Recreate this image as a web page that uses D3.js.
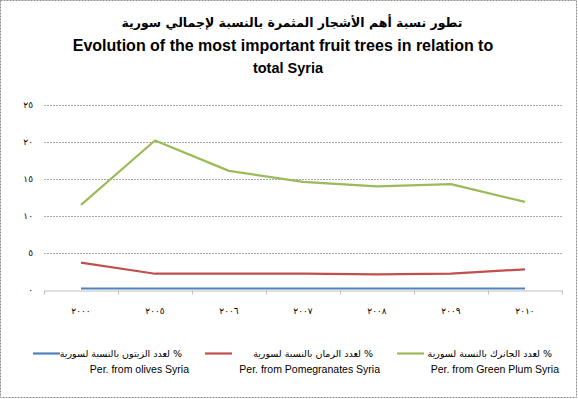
<!DOCTYPE html>
<html>
<head>
<meta charset="utf-8">
<script src="https://cdn.jsdelivr.net/npm/d3@7"></script>
<style>
  body { margin: 0; background: #fff; }
  svg { display: block; }
</style>
</head>
<body>
<svg id="chart"></svg>
<script>
// data
const years = ['٢٠٠٠', '٢٠٠٥', '٢٠٠٦', '٢٠٠٧', '٢٠٠٨', '٢٠٠٩', '٢٠١٠'];
const olives = [0.2, 0.2, 0.2, 0.2, 0.2, 0.2, 0.2];
const pomegranates = [3.7, 2.2, 2.2, 2.2, 2.1, 2.2, 2.8];
const greenPlum = [11.5, 20.2, 16.1, 14.6, 14.0, 14.3, 11.9];
const yTicks = [0, 5, 10, 15, 20, 25];
const yTickLabels = ['٠', '٥', '١٠', '١٥', '٢٠', '٢٥'];

const seriesNames = [
  { ar: '% لعدد الزيتون بالنسبة لسورية', en: 'Per. from olives Syria' },
  { ar: '% لعدد الرمان بالنسبة لسورية', en: 'Per. from Pomegranates Syria' },
  { ar: '% لعدد الجانرك بالنسبة لسورية', en: 'Per. from Green Plum Syria' }
];
const seriesValues = [olives, pomegranates, greenPlum];
const colors = ['#4F81BD', '#C0504D', '#9BBB59'];

const width = 578, height = 399;
const marginLeft = 44, marginRight = 16, marginTop = 105, marginBottom = 109;

const svg = d3.select('#chart')
  .attr('width', width)
  .attr('height', height)
  .attr('viewBox', [0, 0, width, height]);

// dashed frame round the whole picture
svg.append('rect')
  .attr('x', 0.5).attr('y', 0.5)
  .attr('width', 576).attr('height', 397)
  .attr('fill', 'none')
  .attr('stroke', '#8c8c8c')
  .attr('stroke-dasharray', '2,1');

// titles
svg.append('text')
  .attr('x', 292).attr('y', 27)
  .attr('text-anchor', 'middle')
  .style('font-family', 'DejaVu Sans')
  .style('font-weight', 'bold')
  .style('font-size', '12.5px')
  .text('تطور نسبة أهم الأشجار المثمرة بالنسبة لإجمالي سورية');

svg.append('text')
  .attr('x', 283).attr('y', 51)
  .attr('text-anchor', 'middle')
  .style('font-family', 'Liberation Sans, Arial, sans-serif')
  .style('font-weight', 'bold')
  .style('font-size', '16px')
  .text('Evolution of the most important fruit trees in relation to');

svg.append('text')
  .attr('x', 288).attr('y', 73)
  .attr('text-anchor', 'middle')
  .style('font-family', 'Liberation Sans, Arial, sans-serif')
  .style('font-weight', 'bold')
  .style('font-size', '14.5px')
  .text('total Syria');

const x = d3.scaleBand()
  .domain(years)
  .range([marginLeft, width - marginRight]);

const y = d3.scaleLinear()
  .domain([0, 25])
  .range([height - marginBottom, marginTop]);

// grid lines
svg.append('g')
  .selectAll('line')
  .data(yTicks.filter(d => d > 0))
  .join('line')
  .attr('x1', marginLeft)
  .attr('x2', width - marginRight)
  .attr('y1', d => Math.round(y(d)) + 0.5)
  .attr('y2', d => Math.round(y(d)) + 0.5)
  .attr('stroke', '#ababab')
  .attr('stroke-dasharray', '2,1');

// y labels, no axis line
svg.append('g')
  .attr('transform', `translate(${marginLeft},0)`)
  .call(d3.axisLeft(y).tickValues(yTicks).tickSize(0).tickPadding(11)
    .tickFormat((d, i) => yTickLabels[i]))
  .call(g => g.select('.domain').remove())
  .call(g => g.selectAll('text')
    .style('font-family', 'DejaVu Sans')
    .style('font-size', '9px')
    .style('letter-spacing', '1px')
    .attr('fill', '#000'));

// x axis
const xAxis = svg.append('g')
  .attr('transform', `translate(0,${Math.round(y(0)) + 0.5})`)
  .call(d3.axisBottom(x).tickSize(0).tickPadding(17));
xAxis.select('.domain').attr('stroke', '#bfbfbf');
xAxis.selectAll('text')
  .style('font-family', 'DejaVu Sans')
  .style('font-size', '9px')
  .style('letter-spacing', '1.5px')
  .attr('fill', '#000');
// tick marks sit on the band edges
xAxis.append('g')
  .selectAll('line')
  .data(years.concat(['end']))
  .join('line')
  .attr('x1', (d, i) => Math.round(marginLeft + i * x.bandwidth()) + 0.5)
  .attr('x2', (d, i) => Math.round(marginLeft + i * x.bandwidth()) + 0.5)
  .attr('y1', 0).attr('y2', 4)
  .attr('stroke', '#bfbfbf');

// lines
const line = d3.line()
  .x((d, i) => x(years[i]) + x.bandwidth() / 2)
  .y(d => y(d));

svg.append('g')
  .selectAll('path')
  .data(seriesValues)
  .join('path')
  .attr('d', line)
  .attr('fill', 'none')
  .attr('stroke', (d, i) => colors[i])
  .attr('stroke-width', 2.2)
  .attr('stroke-linejoin', 'round');

// legend
const legendLineStart = [33, 205, 397];
const legendTextEnd = [182, 373, 552];

const legend = svg.append('g')
  .selectAll('g')
  .data(seriesNames)
  .join('g');

legend.append('line')
  .attr('x1', (d, i) => legendLineStart[i])
  .attr('x2', (d, i) => legendLineStart[i] + 27)
  .attr('y1', 353.5).attr('y2', 353.5)
  .attr('stroke', (d, i) => colors[i])
  .attr('stroke-width', 2.2);

legend.append('text')
  .attr('x', (d, i) => legendTextEnd[i])
  .attr('y', 357)
  .attr('direction', 'rtl')
  .attr('text-anchor', 'start')
  .style('font-family', 'DejaVu Sans')
  .style('font-size', '9.5px')
  .text(d => d.ar);

legend.append('text')
  .attr('x', (d, i) => legendTextEnd[i] + 7)
  .attr('y', 373)
  .attr('text-anchor', 'end')
  .style('font-family', 'Liberation Sans, Arial, sans-serif')
  .style('font-size', '10.5px')
  .text(d => d.en);
</script>
</body>
</html>
